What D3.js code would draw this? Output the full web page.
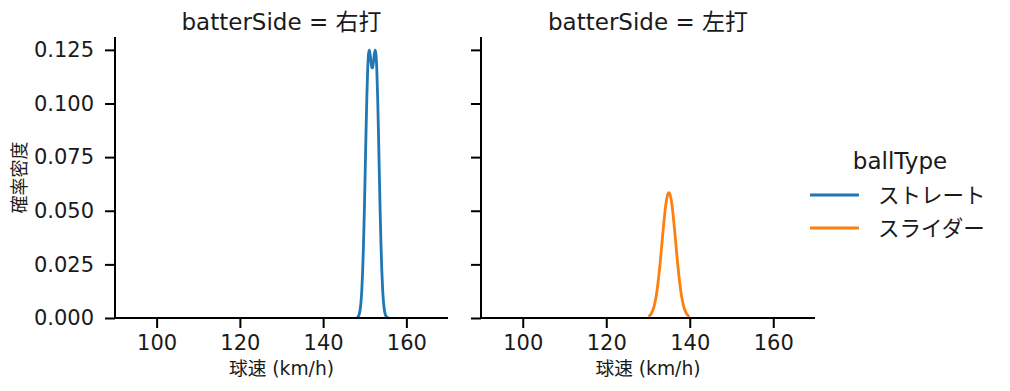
<!DOCTYPE html>
<html><head><meta charset="utf-8">
<script src="https://cdn.jsdelivr.net/npm/d3@7"></script>
<style>body{margin:0;background:#fff}svg{display:block}text{font-family:"DejaVu Sans","Noto Sans CJK JP",sans-serif;fill:#1a1a1a}</style>
</head><body><svg id="c" width="1010" height="391"></svg>
<script>
const panels = ["右打", "左打"];
const seriesNames = ["ストレート", "スライダー"];
const colors = ["#1f77b4", "#ff7f0e"];
const xTicks = [100, 120, 140, 160];
const yTicks = [0, 0.025, 0.05, 0.075, 0.1, 0.125];
// 右打 / ストレート density curve
const rightX = [148.1,148.3,148.5,148.7,148.9,149.1,149.3,149.5,149.7,149.9,150.1,150.3,150.5,150.7,150.9,151.1,151.3,151.5,151.7,151.8,151.9,152.1,152.3,152.5,152.7,152.9,153.1,153.3,153.5,153.7,153.9,154.1,154.3,154.5,154.7,154.9,155.1,155.3,155.5,155.7];
const rightY = [0.00016,0.00039,0.0009,0.00195,0.00396,0.0075,0.0133,0.022,0.0343,0.0497,0.0677,0.0861,0.1028,0.1155,0.1229,0.1249,0.1229,0.1194,0.1169,0.1166,0.1169,0.1194,0.1229,0.1249,0.1229,0.1155,0.1028,0.0861,0.0677,0.0497,0.0343,0.022,0.0133,0.0075,0.00396,0.00195,0.0009,0.00039,0.00016,0.00006];
// 左打 / スライダー density curve
const leftX = [130.1,130.45,130.8,131.15,131.5,131.85,132.2,132.55,132.9,133.25,133.6,133.95,134.3,134.65,135.0,135.35,135.7,136.05,136.4,136.75,137.1,137.45,137.8,138.15,138.5,138.85,139.2,139.55,139.9];
const leftY = [0.0006,0.0012,0.0021,0.0036,0.0058,0.009,0.0133,0.0189,0.0255,0.0328,0.0404,0.0475,0.0533,0.0571,0.0584,0.0571,0.0533,0.0475,0.0404,0.0328,0.0255,0.0189,0.0133,0.009,0.0058,0.0036,0.0021,0.0012,0.0006];

const svg = d3.select("#c");
const yTop = 37, yBottom = 318;
const panelX = [[115, 448], [481, 815]];
const y = d3.scaleLinear().domain([0, 0.131]).range([yBottom, yTop]);
const curves = [
  {panel: 0, s: 0, xs: rightX, ys: rightY},
  {panel: 1, s: 1, xs: leftX, ys: leftY}
];

panelX.forEach((px, i) => {
  const x = d3.scaleLinear().domain([90, 170]).range(px);
  const g = svg.append("g");
  curves.filter(c => c.panel === i).forEach(c => {
    const pts = c.xs.map((v, k) => [v, c.ys[k]]);
    g.append("path").datum(pts)
      .attr("fill", "none").attr("stroke", colors[c.s]).attr("stroke-width", 2.8)
      .attr("stroke-linejoin", "round")
      .attr("d", d3.line().x(d => x(d[0])).y(d => y(d[1])).curve(d3.curveMonotoneX));
  });
  const xa = g.append("g").attr("transform", `translate(0,${yBottom})`)
    .call(d3.axisBottom(x).tickValues(xTicks).tickSize(10).tickPadding(7).tickFormat(d3.format("d")));
  const ya = g.append("g").attr("transform", `translate(${px[0]},0)`)
    .call(d3.axisLeft(y).tickValues(yTicks).tickSize(10).tickPadding(11).tickFormat(i === 0 ? d3.format(".3f") : () => ""));
  [xa, ya].forEach(a => {
    a.attr("font-family", null).attr("font-size", null);
    a.selectAll(".tick line").attr("stroke", "#000").attr("stroke-width", 2);
    a.selectAll(".tick text").attr("font-size", 21).attr("fill", "#1a1a1a");
  });
  xa.select(".domain").attr("stroke", "#000").attr("stroke-width", 2).attr("d", `M${px[0]},0H${px[1]}`);
  ya.select(".domain").attr("stroke", "#000").attr("stroke-width", 2).attr("d", `M0,${yBottom}V${yTop}`);
  g.append("text").attr("x", (px[0] + px[1]) / 2).attr("y", 30).attr("text-anchor", "middle")
    .attr("font-size", 23).text(`batterSide = ${panels[i]}`);
  g.append("text").attr("x", (px[0] + px[1]) / 2).attr("y", 375).attr("text-anchor", "middle")
    .attr("font-size", 18.7).text("球速 (km/h)");
});
svg.append("text").attr("transform", `translate(26,${(yTop + yBottom) / 2}) rotate(-90)`)
  .attr("text-anchor", "middle").attr("font-size", 18).text("確率密度");

const lg = svg.append("g");
lg.append("text").attr("x", 900).attr("y", 169).attr("text-anchor", "middle").attr("font-size", 23).text("ballType");
seriesNames.forEach((n, i) => {
  const yy = 195 + i * 33;
  lg.append("line").attr("x1", 810).attr("x2", 859).attr("y1", yy).attr("y2", yy)
    .attr("stroke", colors[i]).attr("stroke-width", 2.8);
  lg.append("text").attr("x", 878).attr("y", yy + 8).attr("font-size", 21.5).text(n);
});
</script></body></html>
